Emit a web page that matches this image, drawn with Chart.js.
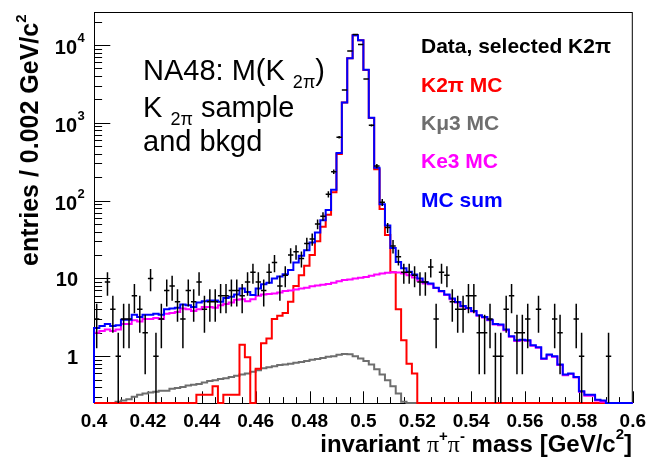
<!DOCTYPE html>
<html>
<head>
<meta charset="utf-8">
<script src="https://cdn.jsdelivr.net/npm/chart.js@4.4.1/dist/chart.umd.min.js"></script>
<style>
  html, body { margin: 0; padding: 0; background: #fff; }
  canvas { display: block; }
</style>
</head>
<body>
<canvas id="chart" width="653" height="463"></canvas>
<script>
// binning of the pi+pi- mass histogram
const X_MIN = 0.4;
const X_MAX = 0.6;
const BIN_WIDTH = 0.002;
const Y_MIN = 0.25;
const Y_MAX = 26600;

const xTickValues = [0.4, 0.42, 0.44, 0.46, 0.48, 0.5, 0.52, 0.54, 0.56, 0.58, 0.6];
const xTickLabels = ['0.4', '0.42', '0.44', '0.46', '0.48', '0.5', '0.52', '0.54', '0.56', '0.58', '0.6'];
const yTickValues = [1, 10, 100, 1000, 10000];
const yTickBases = ['1', '10', '10', '10', '10'];
const yTickExponents = ['', '', '2', '3', '4'];

// entries per 0.002 GeV/c^2 bin, 100 bins from 0.4 to 0.6
const dataCounts = [
  3, 0, 9, 4, 1, 3, 3, 6, 4, 2,
  10, 1, 3, 7, 8, 5, 3, 7, 5, 9,
  4, 5, 5, 6, 6, 7, 7, 6, 9, 12,
  9, 7, 12, 16, 8, 11, 20, 22, 18, 28,
  32, 50, 63, 121, 235, 653, 2650, 8400, 13700, 10200,
  3650, 930, 278, 95, 45, 26, 19, 12, 12, 11,
  9, 9, 14, 3, 12, 11, 5, 4, 4, 6,
  6, 2, 2, 3, 1, 1, 4, 6, 2, 2,
  3, 0, 4, 0, 0, 3, 2, 0, 0, 3,
  1, 0, 0, 0, 0, 1, 0, 0, 0, 0,
];

const k2piMC = [
  0, 0, 0, 0, 0, 0, 0, 0, 0, 0,
  0, 0, 0, 0, 0, 0, 0, 0, 0, 0.32,
  0.32, 0.32, 0.41, 0, 0.32, 0.32, 0.32, 1.4, 0.97, 0,
  0.69, 1.47, 1.69, 3.0, 3.3, 3.6, 5.0, 8.0, 11, 14.5,
  20, 30, 46, 66, 128, 398, 1820, 6740, 13390, 11490,
  4790, 1150, 253, 78, 36, 12, 4.0, 1.6, 0.8, 0.6,
  0, 0, 0, 0, 0, 0, 0, 0, 0, 0,
  0, 0, 0, 0, 0, 0, 0, 0, 0, 0,
  0, 0, 0, 0, 0, 0, 0, 0, 0, 0,
  0, 0, 0, 0, 0, 0, 0, 0, 0, 0,
];

const kmu3MC = [
  0, 0, 0, 0, 0.26, 0.27, 0.28, 0.3, 0.32, 0.33,
  0.34, 0.35, 0.36, 0.36, 0.38, 0.39, 0.4, 0.42, 0.43, 0.44,
  0.46, 0.48, 0.49, 0.51, 0.52, 0.54, 0.56, 0.58, 0.6, 0.63,
  0.66, 0.7, 0.72, 0.74, 0.77, 0.78, 0.8, 0.82, 0.84, 0.87,
  0.9, 0.92, 0.95, 0.98, 1.0, 1.04, 1.07, 1.06, 1.0, 0.93,
  0.87, 0.78, 0.68, 0.58, 0.49, 0.41, 0.33, 0.26, 0, 0,
  0, 0, 0, 0, 0, 0, 0, 0, 0, 0,
  0, 0, 0, 0, 0, 0, 0, 0, 0, 0,
  0, 0, 0, 0, 0, 0, 0, 0, 0, 0,
  0, 0, 0, 0, 0, 0, 0, 0, 0, 0,
];

const ke3MC = [
  2.0, 2.1, 2.2, 2.1, 2.2, 2.6, 2.6, 2.9, 2.8, 3.0,
  3.0, 3.1, 3.0, 3.5, 3.6, 3.7, 4.1, 4.0, 3.8, 4.0,
  4.3, 4.3, 4.2, 4.5, 4.7, 4.9, 5.3, 5.4, 5.1, 5.4,
  6.0, 6.2, 6.3, 6.4, 6.6, 6.9, 7.0, 7.2, 7.4, 7.6,
  7.9, 8.1, 8.3, 8.5, 8.8, 9.2, 9.5, 9.7, 10.0, 10.2,
  10.4, 10.8, 11.2, 11.6, 11.8, 12.0, 11.9, 11.6, 11.0, 10.3,
  9.3, 8.6, 8.4, 7.5, 6.8, 6.1, 5.4, 4.9, 4.35, 4.1,
  3.75, 3.3, 3.15, 2.9, 2.55, 2.5, 2.15, 1.78, 1.57, 1.6,
  1.58, 1.36, 1.28, 0.92, 1.03, 0.98, 0.77, 0.57, 0.59, 0.53,
  0.35, 0.31, 0.31, 0.27, 0.26, 0, 0, 0, 0, 0,
];

const mcSum = [
  2.3, 2.45, 2.6, 2.45, 2.5, 2.95, 2.95, 3.4, 3.2, 3.4,
  3.4, 3.5, 3.4, 4.0, 4.1, 4.2, 4.6, 4.5, 4.3, 4.9,
  5.1, 5.2, 5.2, 5.0, 5.6, 5.8, 6.2, 7.4, 6.7, 6.1,
  7.4, 8.4, 8.8, 10.0, 10.6, 11.3, 12.8, 16, 19.5, 23,
  29, 39, 56, 76, 138, 410, 1830, 6750, 13400, 11500,
  4800, 1160, 265, 90, 48, 24.5, 16.3, 13.5, 12.2, 11.2,
  10.0, 8.9, 8.6, 7.6, 6.9, 6.2, 5.5, 4.96, 4.4, 4.15,
  3.8, 3.35, 3.2, 2.95, 2.6, 2.55, 2.2, 1.8, 1.6, 1.62,
  1.6, 1.38, 1.3, 0.93, 1.05, 1.0, 0.78, 0.58, 0.6, 0.54,
  0.355, 0.32, 0.32, 0.275, 0.27, 0, 0, 0, 0, 0,
];

const legendLabels = ['Data, selected K2π', 'K2π MC', 'Kμ3 MC', 'Ke3 MC', 'MC sum'];
const legendColors = ['#000000', '#ff0000', '#6e6e6e', '#ff00ff', '#0000ff'];

const SANS = '"Liberation Sans", Arial, Helvetica, sans-serif';
const SERIF = '"Liberation Serif", "DejaVu Serif", serif';

/**
 * Turns bin contents into step points at the low bin edges.
 * Empty bins sit on the axis floor, the way ROOT draws them on a log pad.
 * @param {Array<number>} values - bin contents
 * @returns {Array<{x:number,y:number}>}
 */
const histPoints = (values) => {
  const floor = (v) => Math.max(v, Y_MIN);
  const pts = [{ x: X_MIN, y: Y_MIN }];
  values.forEach((v, i) => pts.push({ x: X_MIN + i * BIN_WIDTH, y: floor(v) }));
  pts.push({ x: X_MAX, y: floor(values[values.length - 1]) });
  return pts;
};

const histDataset = (label, values, color) => ({
  label,
  data: histPoints(values),
  borderColor: color,
  backgroundColor: color,
  borderWidth: 2,
  pointRadius: 0,
  stepped: 'before',
  fill: false,
  clip: 3,
});

const fontOf = (p) => `${p.b ? 'bold ' : ''}${p.s}px ${p.f || SANS}`;

// draws a run of text pieces with their own size and vertical shift
const drawRich = (ctx, x, y, parts, align) => {
  let total = 0;
  parts.forEach((p) => {
    ctx.font = fontOf(p);
    p.w = ctx.measureText(p.t).width;
    total += p.w;
  });
  let cx = align === 'right' ? x - total : x;
  ctx.textAlign = 'left';
  ctx.textBaseline = 'alphabetic';
  parts.forEach((p) => {
    ctx.font = fontOf(p);
    ctx.fillText(p.t, cx, y + (p.dy || 0));
    cx += p.w;
  });
};

const rootStyle = {
  id: 'rootStyle',
  beforeDatasetsDraw(chart) {
    const { ctx, chartArea: a, scales: { x, y } } = chart;
    ctx.save();
    ctx.strokeStyle = '#000';
    ctx.lineWidth = 1;
    ctx.strokeRect(a.left + 0.5, a.top + 0.5, a.right - a.left - 1, a.bottom - a.top);

    // x ticks, inside the frame
    ctx.beginPath();
    for (let k = 0; k <= 40; k++) {
      const v = X_MIN + k * 0.005;
      const px = Math.round(x.getPixelForValue(v)) + 0.5;
      const len = k % 4 === 0 ? 11.7 : 5.9;
      ctx.moveTo(px, a.bottom);
      ctx.lineTo(px, a.bottom - len);
    }
    // y ticks, log decades
    for (let e = -1; e <= 4; e++) {
      for (let m = 1; m <= 9; m++) {
        const v = m * Math.pow(10, e);
        if (v < Y_MIN || v > Y_MAX) continue;
        const py = Math.round(y.getPixelForValue(v)) + 0.5;
        ctx.moveTo(a.left, py);
        ctx.lineTo(a.left + (m === 1 ? 16.3 : 8.1), py);
      }
    }
    ctx.stroke();
    ctx.restore();
  },
  afterDatasetsDraw(chart) {
    const { ctx, chartArea: a, scales: { x, y } } = chart;
    const pts = chart.data.datasets.find((d) => d.label === 'data').data;
    ctx.save();
    ctx.strokeStyle = '#000';
    ctx.lineWidth = 1.5;
    ctx.beginPath();
    pts.forEach((p) => {
      if (!p.y) return;
      const err = Math.sqrt(p.y);
      const px = x.getPixelForValue(p.x);
      const py = y.getPixelForValue(p.y);
      const top = y.getPixelForValue(p.y + err);
      const low = p.y - err > 0 ? y.getPixelForValue(p.y - err) : a.bottom;
      ctx.moveTo(px, Math.max(top, a.top));
      ctx.lineTo(px, Math.min(low, a.bottom));
      ctx.moveTo(x.getPixelForValue(p.x - BIN_WIDTH / 2), py);
      ctx.lineTo(x.getPixelForValue(p.x + BIN_WIDTH / 2), py);
    });
    ctx.stroke();
    ctx.restore();
  },
  afterDraw(chart) {
    const { ctx, scales: { y } } = chart;
    ctx.save();
    ctx.fillStyle = '#000';

    // y tick labels with exponents
    yTickValues.forEach((v, i) => {
      const py = y.getPixelForValue(v);
      if (yTickExponents[i]) {
        drawRich(ctx, 77, py + 9, [{ t: yTickBases[i], s: 20, b: true }], 'right');
        drawRich(ctx, 77.5, py - 3, [{ t: yTickExponents[i], s: 13, b: true }]);
      } else {
        drawRich(ctx, 78, py + 8, [{ t: yTickBases[i], s: 20, b: true }], 'right');
      }
    });

    // axis titles
    drawRich(ctx, 632, 452, [
      { t: 'invariant ', s: 24, b: true },
      { t: 'π', s: 24, f: SERIF },
      { t: '+', s: 15, b: true, dy: -11 },
      { t: 'π', s: 24, f: SERIF },
      { t: '-', s: 15, b: true, dy: -11 },
      { t: ' mass [GeV/c', s: 24, b: true },
      { t: '2', s: 15, b: true, dy: -13 },
      { t: ']', s: 24, b: true },
    ], 'right');

    ctx.save();
    ctx.translate(38, 266);
    ctx.rotate(-Math.PI / 2);
    drawRich(ctx, 0, 0, [
      { t: 'entries / 0.002 GeV/c', s: 25, b: true },
      { t: '2', s: 15, b: true, dy: -12 },
    ]);
    ctx.restore();

    // sample description
    drawRich(ctx, 143, 80, [
      { t: 'NA48: M(K ', s: 29 },
      { t: '2π', s: 18, dy: 8 },
      { t: ')', s: 29 },
    ]);
    drawRich(ctx, 143, 117, [
      { t: 'K ', s: 29 },
      { t: '2π', s: 18, dy: 8 },
      { t: ' sample', s: 29 },
    ]);
    drawRich(ctx, 143, 151, [{ t: 'and bkgd', s: 29 }]);

    // legend text
    const baselines = [53, 92, 130, 168, 207];
    legendLabels.forEach((label, i) => {
      ctx.fillStyle = legendColors[i];
      drawRich(ctx, 421, baselines[i], [{ t: label, s: 21, b: true }]);
    });
    ctx.restore();
  },
};

const canvas = document.getElementById('chart');

new Chart(canvas, {
  type: 'line',
  data: {
    datasets: [
      histDataset('MC sum', mcSum, legendColors[4]),
      histDataset('Ke3 MC', ke3MC, legendColors[3]),
      histDataset('K2pi MC', k2piMC, legendColors[1]),
      histDataset('Kmu3 MC', kmu3MC, legendColors[2]),
      {
        label: 'data',
        data: dataCounts.map((n, i) => ({ x: X_MIN + (i + 0.5) * BIN_WIDTH, y: n })),
        showLine: false,
        pointRadius: 0,
        borderWidth: 0,
      },
    ],
  },
  options: {
    responsive: false,
    animation: false,
    devicePixelRatio: 1,
    events: [],
    layout: { padding: { top: 12, right: 16, left: 0, bottom: 0 } },
    plugins: {
      legend: { display: false },
      tooltip: { enabled: false },
    },
    scales: {
      x: {
        type: 'linear',
        min: X_MIN,
        max: X_MAX,
        afterFit: (scale) => { scale.height = 60; },
        afterBuildTicks: (scale) => { scale.ticks = xTickValues.map((value) => ({ value })); },
        grid: { display: false, drawTicks: false },
        border: { display: false },
        ticks: {
          autoSkip: false,
          maxRotation: 0,
          padding: 7,
          color: '#000',
          font: { family: SANS, size: 19, weight: 'bold' },
          callback: (value, index) => xTickLabels[index],
        },
      },
      y: {
        type: 'logarithmic',
        min: Y_MIN,
        max: Y_MAX,
        afterFit: (scale) => { scale.width = 94; },
        grid: { display: false, drawTicks: false },
        border: { display: false },
        ticks: { display: false },
      },
    },
  },
  plugins: [rootStyle],
});
</script>
</body>
</html>
